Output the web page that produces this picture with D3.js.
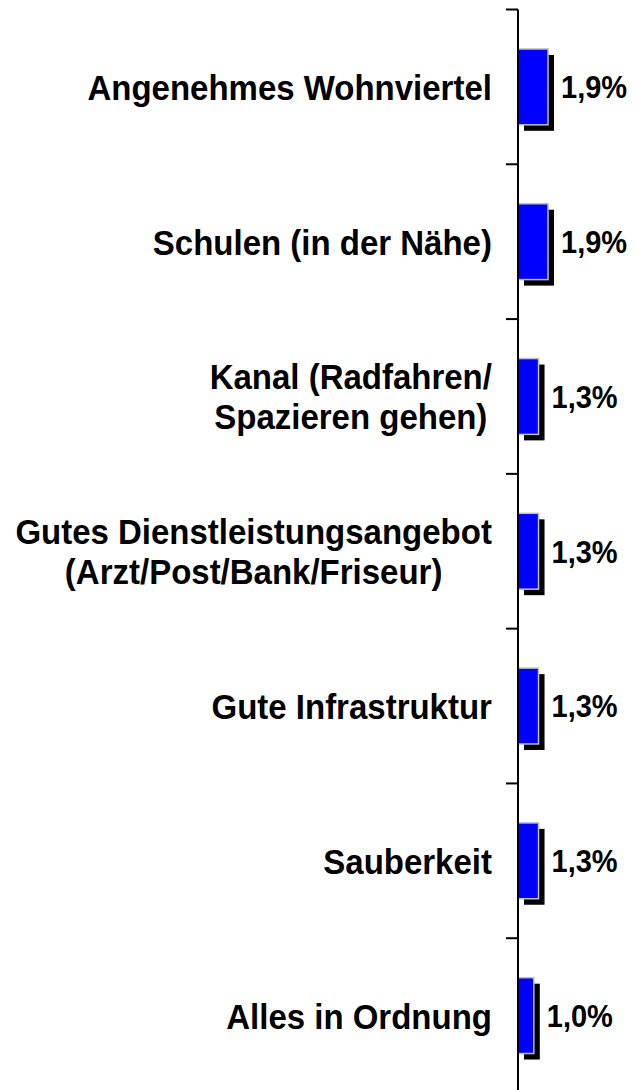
<!DOCTYPE html>
<html>
<head>
<meta charset="utf-8">
<script src="https://cdn.jsdelivr.net/npm/d3@7"></script>
<style>
  body { margin: 0; background: #fff; }
  text { font-family: "Liberation Sans", Arial, sans-serif; font-weight: bold; fill: #000; }
</style>
</head>
<body>
<svg id="chart"></svg>
<script>
const categories = [
  ["Angenehmes Wohnviertel"],
  ["Schulen (in der Nähe)"],
  ["Kanal (Radfahren/", "Spazieren gehen)"],
  ["Gutes Dienstleistungsangebot", "(Arzt/Post/Bank/Friseur)"],
  ["Gute Infrastruktur"],
  ["Sauberkeit"],
  ["Alles in Ordnung"]
];
const values = [1.9, 1.9, 1.3, 1.3, 1.3, 1.3, 1.0];
const valueLabels = ["1,9%", "1,9%", "1,3%", "1,3%", "1,3%", "1,3%", "1,0%"];

const W = 639, H = 1090;
const svg = d3.select("#chart").attr("width", W).attr("height", H);

const axisX = 518;
const idx = d3.range(categories.length);

const y = d3.scaleBand()
  .domain(idx)
  .range([9.5, 1093])
  .paddingInner(0.51)
  .paddingOuter(0.255);

const yTicks = d3.scaleBand().domain(idx).range([9.5, 1093]);

const x = d3.scaleLinear().domain([0, 1]).range([axisX, axisX + 15.8]);

const off = 6;
const stretch = 1.09; // glyphs in the original are a bit taller than wide

// shadows
svg.selectAll(".shadow")
  .data(idx)
  .enter().append("rect")
  .attr("x", i => x(0) + off)
  .attr("y", i => y(i) + off)
  .attr("width", i => x(values[i]) - x(0))
  .attr("height", y.bandwidth())
  .attr("fill", "#000");

// bars
svg.selectAll(".bar")
  .data(idx)
  .enter().append("rect")
  .attr("x", i => x(0))
  .attr("y", i => y(i))
  .attr("width", i => x(values[i]) - x(0))
  .attr("height", y.bandwidth())
  .attr("fill", "#0000ff")
  .attr("stroke", "#c0c0c0")
  .attr("stroke-width", 1.5);

// axis line and ticks
svg.append("line")
  .attr("x1", axisX).attr("x2", axisX)
  .attr("y1", 9.5).attr("y2", H)
  .attr("stroke", "#000").attr("stroke-width", 2);

const tickYs = idx.map(i => yTicks(i));
svg.selectAll(".tick")
  .data(tickYs)
  .enter().append("line")
  .attr("x1", axisX - 12).attr("x2", axisX)
  .attr("y1", d => d).attr("y2", d => d)
  .attr("stroke", "#000").attr("stroke-width", 2);

// value labels
svg.selectAll(".val")
  .data(idx)
  .enter().append("text")
  .attr("transform", i => `translate(${x(values[i]) + 13},${y(i) + y.bandwidth() / 2}) scale(1,${stretch})`)
  .attr("dy", "0.36em")
  .style("font-size", "29px")
  .text(i => valueLabels[i]);

// category labels
const labelRight = 492;
const lineH = 40;
idx.forEach(i => {
  const lines = categories[i];
  const cy = y(i) + y.bandwidth() / 2;
  const g = svg.append("g");
  const texts = lines.map((t, k) => g.append("text")
    .attr("dy", "0.36em")
    .attr("text-anchor", "middle")
    .style("font-size", "33px")
    .text(t));
  const maxW = d3.max(texts, t => t.node().getComputedTextLength());
  texts.forEach((t, k) => t.attr("transform",
    `translate(${labelRight - maxW / 2},${cy + (k - (lines.length - 1) / 2) * lineH}) scale(1,${stretch})`));
});
</script>
</body>
</html>
